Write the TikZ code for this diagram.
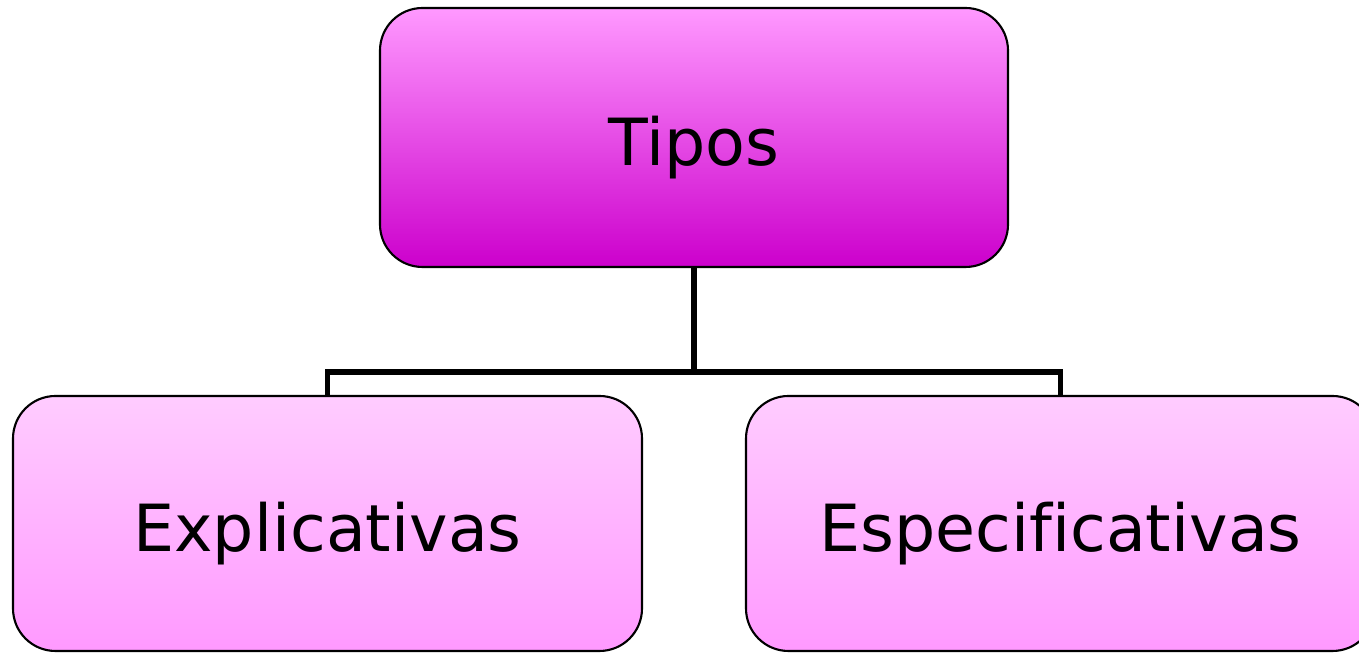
\documentclass[tikz,border=0pt]{standalone}
\usepackage{fontspec}
\setmainfont[Ligatures={NoCommon}]{DejaVu Sans}
\usepackage{tikz}
\usepackage{xcolor}
\usetikzlibrary{positioning, calc}
\definecolor{pinklite}{HTML}{FFCCFF}
\definecolor{pinkmid}{HTML}{FF99FF}
\definecolor{pinkhalf}{HTML}{E87CE8}
\definecolor{pinkdeep}{HTML}{CC00CC}
\newcommand{\boxlabel}[1]{\raisebox{-0.57cm}[0pt][0pt]{#1}}

\tikzset{
  kindbox/.style={draw=black, line width=1.2pt, rounded corners=0.85cm,
                  inner sep=0pt, font=\fontsize{37}{44}\selectfont},
  headbox/.style={kindbox, minimum width=12.56cm, minimum height=5.18cm,
                  top color=pinkmid, middle color=pinkhalf, bottom color=pinkdeep},
  leafbox/.style={kindbox, minimum width=12.58cm, minimum height=5.1cm,
                  top color=pinklite, bottom color=pinkmid},
  branch/.style={line width=3.4pt, black}
}

\begin{document}
\begin{tikzpicture}
  \clip (0,0) rectangle (27.18,13.06);
  \fill[white] (0,0) rectangle (27.18,13.06);

  % Boxes
  \node[headbox] (tipos) at (13.88,10.31) {\boxlabel{Tipos}};
  \node[leafbox] (expl) at (6.55,2.59) {\boxlabel{Explicativas}};
  \node[leafbox] (espec) at (21.21,2.59) {\boxlabel{Especificativas}};

  % Branches
  \coordinate (bus) at (13.88,5.62);
  \draw[branch] (tipos.south) -- (bus) -| (expl.north);
  \draw[branch] (bus) -| (espec.north);
\end{tikzpicture}
\end{document}
